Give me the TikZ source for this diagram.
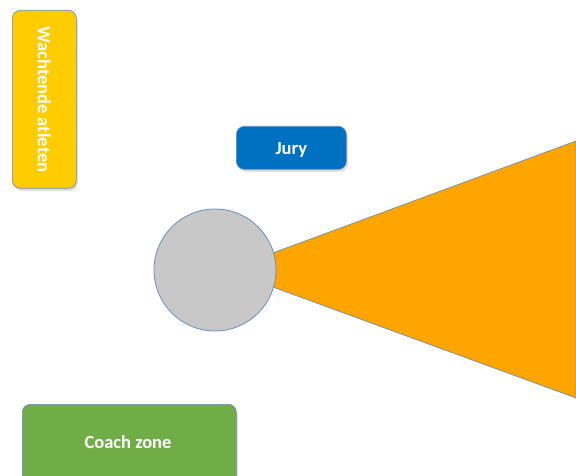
\documentclass[tikz,border=0pt]{standalone}
\usepackage{fontspec}
\setmainfont{Carlito}
\usetikzlibrary{shadows}
\definecolor{edgeblue}{HTML}{6C8EBF}
\definecolor{jurybl}{HTML}{0070C0}
\definecolor{yel}{HTML}{FFCC00}
\definecolor{grn}{HTML}{70AD47}
\definecolor{org}{HTML}{FFA500}
\definecolor{circ}{HTML}{C8C8C8}
\begin{document}
\begin{tikzpicture}[x=1pt,y=-1pt,
  lbl/.style={text=white,font=\bfseries\fontsize{18.5}{20}\selectfont},
  zone/.style={draw=edgeblue,line width=0.7pt,rounded corners=8pt,
    drop shadow={shadow xshift=1.5pt,shadow yshift=-2.5pt,opacity=0.25},
    lbl,anchor=north west,inner sep=0pt}]
\useasboundingbox (0,0) rectangle (576,476);
\clip (0,0) rectangle (576,476);
\fill[white] (0,0) rectangle (576,476);
% field sector
\coordinate (t1) at (270,254);
\coordinate (t2) at (576,141);
\coordinate (t3) at (576,398);
\coordinate (t4) at (270,286);
\draw[edgeblue,line width=0.7pt,fill=org] (t1) -- (t2) -- (t3) -- (t4) -- cycle;
% circle
\node[circle,draw=edgeblue,line width=0.8pt,fill=circ,minimum size=122pt,inner sep=0pt] (ring) at (215,270) {};
% boxes
\node[zone,fill=yel,minimum width=64pt,minimum height=178pt] (wacht) at (12,10) {};
\node[lbl,rotate=-90] (wachttxt) at (wacht.center) {Wachtende atleten};
\node[zone,fill=jurybl,minimum width=110pt,minimum height=43pt] (jury) at (236,126) {};
\node[lbl] (jurytxt) at ([yshift=-2pt]jury.center) {Jury};
\node[zone,fill=grn,minimum width=214pt,minimum height=90pt] (coach) at (22,404) {};
\node[lbl] (coachtxt) at (128,442) {Coach zone};
\end{tikzpicture}
\end{document}
